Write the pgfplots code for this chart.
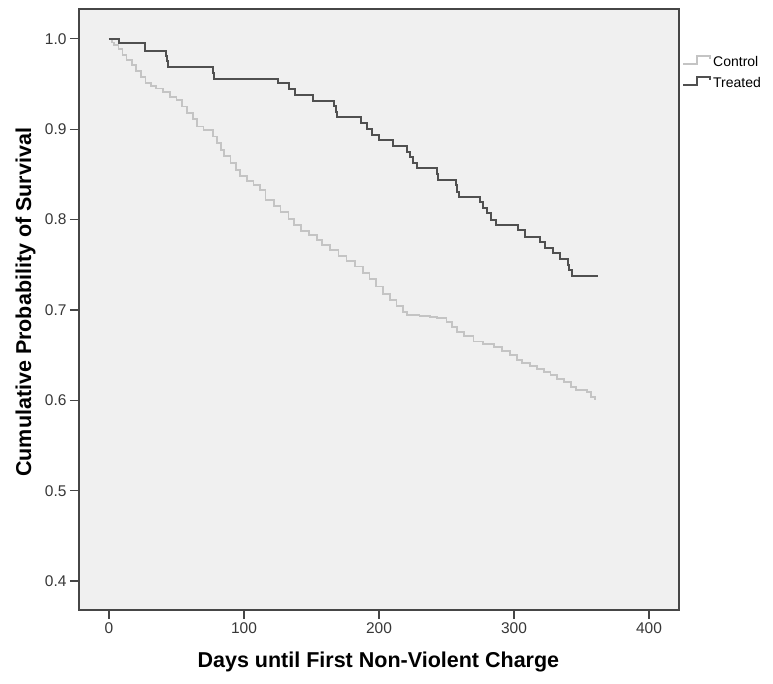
\documentclass[border=0pt]{standalone}
\usepackage{fontspec}
\setmainfont{Liberation Sans}
\usepackage{pgfplots}
\pgfplotsset{compat=1.18}
\definecolor{ctrl}{RGB}{196,196,196}
\definecolor{trt}{RGB}{80,80,80}
\definecolor{panel}{RGB}{240,240,240}
\definecolor{frame}{RGB}{70,70,70}
\definecolor{ticktxt}{RGB}{55,55,55}

\begin{document}
\begin{tikzpicture}
\begin{axis}[
  name=ax,
  scale only axis,
  width=600bp, height=601bp,
  xmin=-22.2, xmax=422.2,
  ymin=0.368, ymax=1.033,
  xtick={0,100,200,300,400},
  ytick={0.4,0.5,0.6,0.7,0.8,0.9,1.0},
  yticklabel style={/pgf/number format/.cd, fixed, fixed zerofill, precision=1},
  /pgf/number format/assume math mode=true,
  axis background/.style={fill=panel},
  axis line style={frame, line width=1.3bp},
  tick style={frame, line width=1.3bp},
  tick align=outside,
  major tick length=9bp,
  xtick pos=bottom, ytick pos=left,
  ticklabel style={font=\fontsize{15.5bp}{18bp}\selectfont, text=ticktxt},
  xlabel={Days until First Non-Violent Charge},
  ylabel={Cumulative Probability of Survival},
  label style={font=\bfseries\fontsize{21.5bp}{24bp}\selectfont},
  xlabel style={at={(axis description cs:0.499,-0.087)}, anchor=center},
  ylabel style={at={(axis description cs:-0.089,0.512)}, anchor=center},
  legend style={at={(rel axis cs:1,0.925)}, anchor=north west, xshift=3bp,
    draw=none, fill=none, inner sep=0pt, row sep=5bp,
    font=\fontsize{14bp}{16bp}\selectfont},
  legend cell align=left,
  legend image code/.code={\draw[#1] (0bp,-2bp) -- (14bp,-2bp) -- (14bp,6bp) -- (27bp,6bp) -- (27bp,3bp);},
]
\addplot[const plot, ctrl, line width=1.8bp] coordinates {
(0,1.000) (2,0.996) (4,0.993) (7,0.989) (10,0.982) (13,0.977) (17,0.971)
(20,0.964) (24,0.958) (27,0.951) (31,0.948) (35,0.945) (40,0.941) (45,0.936)
(50,0.932) (54,0.925) (58,0.918) (62,0.911) (65,0.903) (70,0.899) (77,0.892)
(80,0.885) (83,0.877) (85,0.870) (90,0.863) (94,0.855) (97,0.848) (102,0.843)
(107,0.838) (112,0.833) (116,0.822) (122,0.815) (127,0.808) (133,0.801)
(137,0.794) (142,0.787) (148,0.783) (154,0.777) (158,0.772) (164,0.766)
(170,0.760) (176,0.754) (182,0.748) (188,0.741) (193,0.734) (198,0.726)
(203,0.718) (208,0.711) (213,0.704) (218,0.698) (221,0.694) (230,0.693)
(238,0.692) (243,0.691) (250,0.687) (254,0.681) (258,0.676) (263,0.671)
(270,0.665) (277,0.662) (285,0.659) (291,0.655) (297,0.650) (302,0.645)
(306,0.641) (312,0.638) (317,0.635) (322,0.631) (327,0.628) (332,0.624)
(337,0.620) (342,0.615) (346,0.611) (354,0.609) (357,0.604) (360,0.600)
};
\addlegendentry{Control}
\addplot[const plot, trt, line width=2bp] coordinates {
(0,1.000) (7.6,0.995) (27,0.987) (42,0.981) (43,0.975) (44,0.969) (77,0.962)
(78,0.956) (125,0.951) (133,0.944) (138,0.938) (151,0.931) (167,0.926)
(168,0.919) (169,0.913) (187,0.907) (191,0.900) (195,0.894) (200,0.888)
(210,0.881) (221,0.875) (223,0.869) (225,0.863) (228,0.857) (243,0.850)
(244,0.844) (257,0.838) (258,0.831) (259,0.825) (275,0.819) (277,0.813)
(280,0.807) (283,0.800) (287,0.794) (303,0.788) (308,0.781) (319,0.775)
(323,0.769) (329,0.763) (334,0.756) (340,0.750) (341,0.744) (343,0.738)
(362,0.738)
};
\addlegendentry{Treated}
\end{axis}
\pgfresetboundingbox
\path[use as bounding box] ([shift={(-79bp,-74bp)}]ax.south west) rectangle ([shift={(694bp,610bp)}]ax.south west);
\end{tikzpicture}
\end{document}
